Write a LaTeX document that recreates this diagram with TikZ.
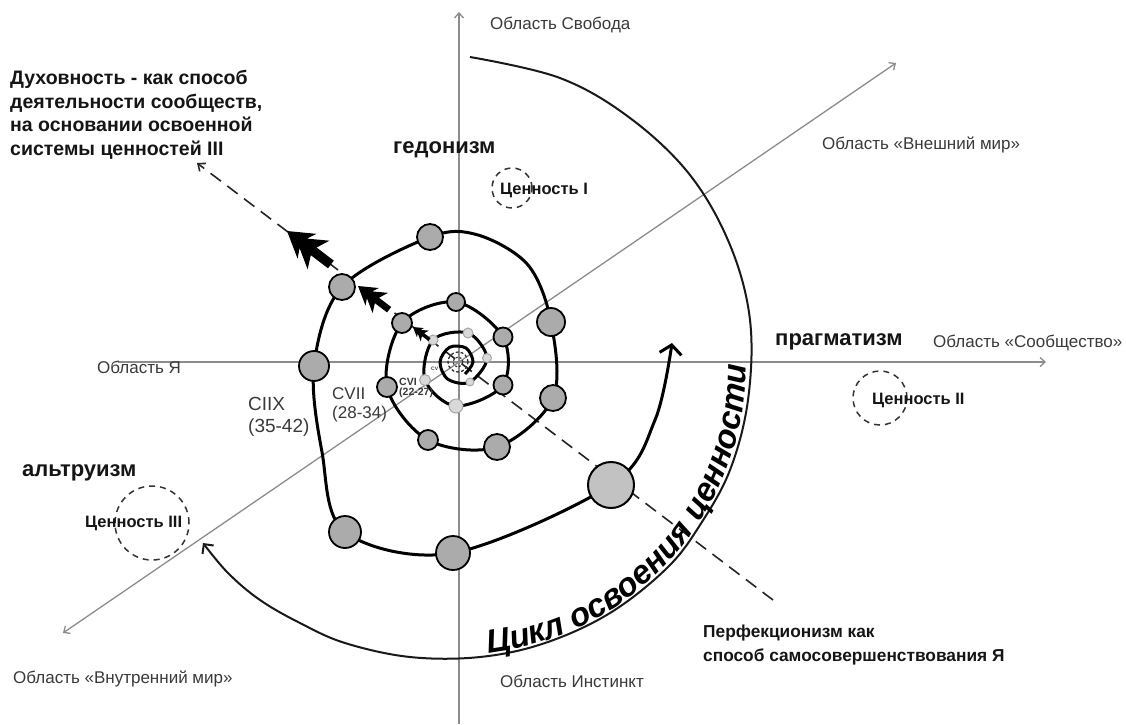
\documentclass[tikz,border=0pt]{standalone}
\usepackage{fontspec}
\setmainfont{Liberation Sans}
\usetikzlibrary{arrows.meta,decorations.text}
\definecolor{axisgray}{HTML}{8C8C8C}
\definecolor{cgray}{HTML}{ABABAB}
\definecolor{cbig}{HTML}{C2C2C2}
\definecolor{clight}{HTML}{D9D9D9}
\definecolor{clightline}{HTML}{A6A6A6}
\definecolor{labgray}{HTML}{3A3A3A}
\definecolor{darktxt}{HTML}{151515}
\begin{document}
\begin{tikzpicture}[x=1pt,y=-1pt,
  axisline/.style={draw=axisgray, line width=1.3pt},
  axtip/.style={-{Straight Barb[length=5pt,width=9pt]}},
  dashline/.style={draw=black!85, line width=1.6pt, dash pattern=on 13pt off 8pt},
  spir/.style={draw=black, line width=3pt},
  gc/.style={circle, draw=black, line width=1.8pt, fill=cgray, inner sep=0pt},
  bc/.style={circle, draw=black, line width=2pt, fill=cbig, inner sep=0pt},
  lc/.style={circle, draw=clightline, line width=1pt, fill=clight, inner sep=0pt},
  valcirc/.style={circle, draw=black!80, line width=1.5pt, dash pattern=on 6pt off 5pt, fill=none, inner sep=0pt},
  lab/.style={font=\fontsize{17}{20}\selectfont, text=labgray, anchor=west, inner sep=0pt},
  blab/.style={font=\fontsize{22}{24}\selectfont\bfseries, text=darktxt, anchor=west, inner sep=0pt},
  vlab/.style={font=\fontsize{16.5}{18}\selectfont\bfseries, text=darktxt, anchor=west, inner sep=0pt},
  agelab/.style={text=labgray, anchor=north west, inner sep=0pt, align=left},
  bigarc/.style={draw=black!90, line width=2pt}
]
\useasboundingbox (0,0) rectangle (1126,724);
\fill[white] (0,0) rectangle (1126,724);

% ---------- axes ----------
\coordinate (O) at (458,362);
\coordinate (vtop) at (459,12);
\coordinate (vbot) at (459,724);
\coordinate (hleft) at (118,362);
\coordinate (hright) at (1046,362);
\coordinate (dll) at (63,633);
\coordinate (dur) at (896,63);
\draw[axisline, axtip] (vbot) -- (vtop);
\draw[axisline, axtip] (hleft) -- (hright);
\draw[axisline, {Straight Barb[length=5pt,width=9pt]}-{Straight Barb[length=5pt,width=9pt]}] (dll) -- (dur);

% ---------- dashed line ----------
\coordinate (dA) at (773,600);
\coordinate (dB) at (197,163);
\draw[dashline, -{Straight Barb[length=6pt,width=10pt]}] (dA) -- (dB);

% ---------- big cycle arc ----------
\draw[bigarc, -{Straight Barb[length=7pt,width=14pt]}] plot[smooth, tension=0.6] coordinates {
 (470,57) (560,78) (630,118) (690,175) (730,245) (750,320) (748,400) (730,470)
 (700,525) (667,568) (610,613) (545,643) (480,657) (410,657) (345,643) (300,623)
 (260,600) (228,573) (203,543)};

\path[decorate, decoration={text along path, text align=left,
  text={|\fontsize{33}{33}\selectfont\bfseries\itshape|Цикл освоения ценности}}]
  plot[domain=0:88, samples=45, smooth, variable=\t]
  ({460+(294.5-0.1*\t)*cos(84.5-\t)}, {360+(294.5-0.1*\t)*sin(84.5-\t)});

% ---------- spiral ----------
\coordinate (i1) at (465,374);
\coordinate (i2) at (473,362);
\coordinate (i3) at (466,348);
\coordinate (i4) at (449.5,347.3);
\coordinate (i5) at (440,362);
\coordinate (i6) at (448,379.3);
\coordinate (p21) at (470,382);
\coordinate (p20) at (487,358);
\coordinate (p19) at (468,333);
\coordinate (p18) at (433,340);
\coordinate (p17) at (425,380);
\coordinate (p16) at (456,406);
\coordinate (p15) at (503,385);
\coordinate (p14) at (503,337);
\coordinate (p13) at (456,302);
\coordinate (p12) at (402,323);
\coordinate (p11) at (387,387);
\coordinate (p10) at (428,440);
\coordinate (p9) at (497,447);
\coordinate (p8) at (553,398);
\coordinate (p7) at (551,322);
\coordinate (m1) at (528,265);
\coordinate (m2) at (478,235);
\coordinate (p6) at (430,237);
\coordinate (p5) at (342,287);
\coordinate (p4) at (314,366);
\coordinate (m3) at (322,452);
\coordinate (p3) at (345,532);
\coordinate (p2) at (453,553);
\coordinate (p1) at (611,485);
\coordinate (m4) at (655,420);
\coordinate (tip) at (672,343);

\draw[spir, -{Straight Barb[length=9pt,width=22pt]}] plot[smooth, tension=0.55] coordinates {
 (i1) (i2) (i3) (i4) (i5) (i6) (p21) (p20) (p19) (p18) (p17) (p16) (p15) (p14) (p13)
 (p12) (p11) (p10) (p9) (p8) (p7) (m1) (m2) (p6) (p5) (p4) (m3) (p3) (p2) (p1) (m4) (tip)};

% centre dashed circles
\node[valcirc, line width=1.3pt, dash pattern=on 3pt off 2pt, minimum size=20pt] (cc1) at (O) {};
\node[valcirc, line width=1.2pt, dash pattern=on 2pt off 2pt, minimum size=10pt] (cc2) at (O) {};

% circles on the spiral
\node[bc, minimum size=46pt] (c1) at (p1) {};
\node[gc, minimum size=34pt] (c2) at (p2) {};
\node[gc, minimum size=32pt] (c3) at (p3) {};
\node[gc, minimum size=30pt] (c4) at (p4) {};
\node[gc, minimum size=26pt] (c5) at (p5) {};
\node[gc, minimum size=26pt] (c6) at (p6) {};
\node[gc, minimum size=28pt] (c7) at (p7) {};
\node[gc, minimum size=26pt] (c8) at (p8) {};
\node[gc, minimum size=26pt] (c9) at (p9) {};
\node[gc, minimum size=20pt] (c10) at (p10) {};
\node[gc, minimum size=20pt] (c11) at (p11) {};
\node[gc, minimum size=20pt] (c12) at (p12) {};
\node[gc, minimum size=18pt] (c13) at (p13) {};
\node[gc, minimum size=19pt] (c14) at (p14) {};
\node[gc, minimum size=19pt] (c15) at (p15) {};
\node[lc, minimum size=14pt] (c16) at (p16) {};
\node[lc, minimum size=11pt] (c17) at (p17) {};
\node[lc, minimum size=10pt] (c18) at (p18) {};
\node[lc, minimum size=10pt] (c19) at (p19) {};
\node[lc, minimum size=9pt] (c20) at (p20) {};
\node[lc, minimum size=8pt] (c21) at (p21) {};

% chevron arrows on the dashed line
\fill[black, shift={(287,231)}, rotate=142.7, scale=1.2]
  (0,0) -- (-21,-13) -- (-17,-5) -- (-33,-15) -- (-28,-4) -- (-46,-4) -- (-46,4)
  -- (-28,4) -- (-33,15) -- (-17,5) -- (-21,13) -- cycle;
\fill[black, shift={(358,286)}, rotate=142.7, scale=0.85]
  (0,0) -- (-21,-13) -- (-17,-5) -- (-33,-15) -- (-28,-4) -- (-46,-4) -- (-46,4)
  -- (-28,4) -- (-33,15) -- (-17,5) -- (-21,13) -- cycle;
\fill[black, shift={(413,327)}, rotate=142.7, scale=0.45]
  (0,0) -- (-21,-13) -- (-17,-5) -- (-33,-15) -- (-28,-4) -- (-46,-4) -- (-46,4)
  -- (-28,4) -- (-33,15) -- (-17,5) -- (-21,13) -- cycle;

% ---------- area labels ----------
\node[lab] (lfree) at (490,25) {Область Свобода};
\node[lab] (lself) at (97,367) {Область Я};
\node[lab] (lcomm) at (933,343) {Область «Сообщество»};
\node[lab] (lout) at (822,145) {Область «Внешний мир»};
\node[lab] (lin) at (13,679) {Область «Внутренний мир»};
\node[lab] (linst) at (500,681) {Область Инстинкт};

\node[blab] (hed) at (393,150) {гедонизм};
\node[blab] (prag) at (775,342) {прагматизм};
\node[blab] (alt) at (22,473) {альтруизм};

% values
\node[valcirc, minimum size=40pt] (v1c) at (512,188) {};
\node[vlab] (v1) at (500,190) {Ценность I};
\node[valcirc, minimum size=54pt] (v2c) at (880,398) {};
\node[vlab] (v2) at (872,400) {Ценность II};
\node[valcirc, minimum size=74pt] (v3c) at (152,523) {};
\node[vlab] (v3) at (85,523) {Ценность III};

% long texts
\node[anchor=north west, inner sep=0pt, align=left, text=darktxt,
  font=\fontsize{19.5}{23.5}\selectfont\bfseries] (spirit) at (10,70)
  {Духовность - как способ\\деятельности сообществ,\\на основании освоенной\\системы ценностей III};
\node[anchor=north west, inner sep=0pt, align=left, text=darktxt,
  font=\fontsize{17.3}{24}\selectfont\bfseries] (perf) at (703,625)
  {Перфекционизм как\\способ самосовершенствования Я};

% age labels
\node[agelab, font=\fontsize{19}{22}\selectfont] (a8) at (248,397) {CIIX\\(35-42)};
\node[agelab, font=\fontsize{17}{19}\selectfont] (a7) at (332,387) {CVII\\(28-34)};
\node[agelab, font=\fontsize{10.5}{10}\selectfont\bfseries] (a6) at (399,378) {CVI\\(22-27)};
\node[agelab, font=\fontsize{5}{5}\selectfont\bfseries] (a5) at (431,367) {CV};
\end{tikzpicture}
\end{document}
